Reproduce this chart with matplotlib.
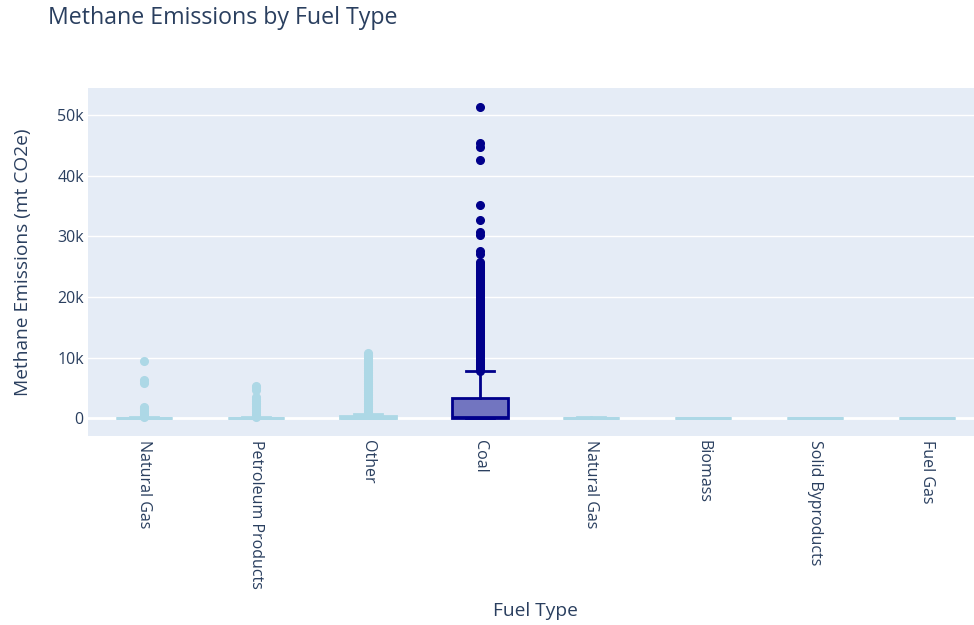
import matplotlib
matplotlib.use("Agg")
import matplotlib.pyplot as plt
from matplotlib.colors import to_rgba
from matplotlib.ticker import FuncFormatter

plt.rcParams['font.family'] = ['Open Sans', 'DejaVu Sans']

categories = ["Natural Gas", "Petroleum Products", "Other", "Coal",
              "Natural Gas ", "Biomass", "Solid Byproducts", "Fuel Gas"]

# box statistics (mt CO2e)
q1_vals = [0, 0, 0, 0, 0, 0, 0, 0]
med_vals = [20, 15, 60, 150, 10, 5, 5, 5]
q3_vals = [120, 100, 350, 3300, 60, 30, 30, 30]
lo_whisk = [0, 0, 0, 0, 0, 0, 0, 0]
hi_whisk = [280, 240, 700, 7750, 150, 70, 70, 70]

# outliers per category
fliers_natural_gas = [9450, 6350, 6100, 5850, 1900, 1650, 1400, 1150, 900, 650, 400, 200]
fliers_petroleum = [5400, 5100, 4700, 3500, 3200, 2900, 2600, 2300, 2000, 1700, 1400,
                    1100, 800, 500, 250]
fliers_other = [10700, 10400, 10100, 9800, 9500, 9200, 8900, 8600, 8300, 8000, 7700,
                7400, 7100, 6800, 6500, 6200, 5900, 5600, 5300, 5000, 4700, 4400,
                4100, 3800, 3500, 3200, 2900, 2600, 2300, 2000, 1700, 1400, 1100, 800]
fliers_coal = [51300, 45400, 44700, 42500, 35200, 32700, 30700, 30200, 27600, 27100,
               25800, 25500, 25200, 24900, 24600, 24300, 24000, 23700, 23400, 23100,
               22800, 22500, 22200, 21900, 21600, 21300, 21000, 20700, 20400, 20100,
               19800, 19500, 19200, 18900, 18600, 18300, 18000, 17700, 17400, 17100,
               16800, 16500, 16200, 15900, 15600, 15300, 15000, 14700, 14400, 14100,
               13800, 13500, 13200, 12900, 12600, 12300, 12000, 11700, 11400, 11100,
               10800, 10500, 10200, 9900, 9600, 9300, 9000, 8700, 8400, 8100, 7850]
fliers_natural_gas2 = []
fliers_biomass = []
fliers_solid = []
fliers_fuel_gas = []
fliers_all = [fliers_natural_gas, fliers_petroleum, fliers_other, fliers_coal,
              fliers_natural_gas2, fliers_biomass, fliers_solid, fliers_fuel_gas]

box_colors = ["#ADD8E6", "#ADD8E6", "#ADD8E6", "#00008B",
              "#ADD8E6", "#ADD8E6", "#ADD8E6", "#ADD8E6"]

text_color = "#2a3f5f"
fig = plt.figure(figsize=(9.74, 6.25), dpi=100)
ax = fig.add_axes([0.0903, 0.3024, 0.919, 0.5566])
ax.set_facecolor("#E5ECF6")
for s in ax.spines.values():
    s.set_visible(False)

for i, cat in enumerate(categories):
    c = box_colors[i]
    stats = [dict(med=med_vals[i], q1=q1_vals[i], q3=q3_vals[i],
                  whislo=lo_whisk[i], whishi=hi_whisk[i], fliers=fliers_all[i], label=cat)]
    ax.bxp(stats, positions=[i], widths=0.5, patch_artist=True, showcaps=True,
           boxprops=dict(facecolor=to_rgba(c, 0.5), edgecolor=c, linewidth=2),
           whiskerprops=dict(color=c, linewidth=2),
           capprops=dict(color=c, linewidth=2),
           capwidths=0.25,
           medianprops=dict(color=c, linewidth=2),
           flierprops=dict(marker="o", markerfacecolor=c, markeredgecolor=c,
                           markersize=5.5, linestyle="none"),
           zorder=3)

ax.set_xlim(-0.5, len(categories) - 0.5)
ax.set_ylim(-2900, 54400)
ax.set_yticks([0, 10000, 20000, 30000, 40000, 50000])
ax.yaxis.set_major_formatter(FuncFormatter(lambda v, p: "0" if v == 0 else f"{int(v/1000)}k"))
ax.set_xticks(range(len(categories)))
ax.set_xticklabels([c.strip() for c in categories], rotation=-90, va="top", ha="center")
ax.grid(axis="y", color="white", linewidth=1, zorder=0)
ax.axhline(0, color="white", linewidth=2, zorder=1)
ax.set_axisbelow(True)
ax.tick_params(axis="both", length=0, labelsize=11.5, colors=text_color)
ax.tick_params(axis="x", pad=3)
ax.tick_params(axis="y", pad=3)

ax.set_xlabel("Fuel Type", fontsize=13.8, color=text_color, va="center")
ax.xaxis.set_label_coords(0.5, -0.503)
ax.set_ylabel("Methane Emissions (mt CO2e)", fontsize=13.8, color=text_color, labelpad=18)
fig.text(0.049, 0.971, "Methane Emissions by Fuel Type", fontsize=16.7, color=text_color,
         ha="left", va="center")

fig.savefig("out.png", dpi=100, facecolor="white")
